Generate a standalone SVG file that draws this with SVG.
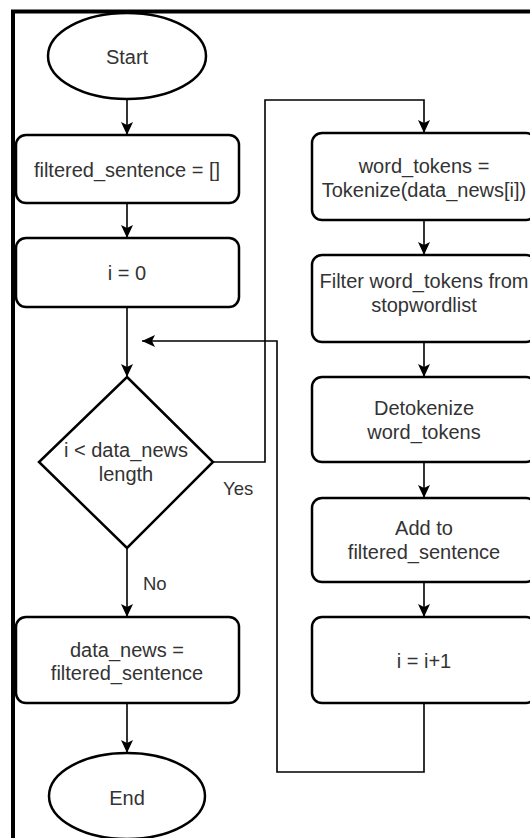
<svg xmlns="http://www.w3.org/2000/svg" width="530" height="838" viewBox="0 0 530 838">
  <defs>
    <style>
      .node { fill: #ffffff; stroke: #000000; stroke-width: 2.5; }
      .lbl { font-family: "Liberation Sans", Arial, sans-serif; font-size: 20px; fill: #333333; text-anchor: middle; }
      .edge-lbl { font-family: "Liberation Sans", Arial, sans-serif; font-size: 18.5px; fill: #333333; }
      .edge { fill: none; stroke: #000000; stroke-width: 1.6; }
    </style>
    <marker id="arrow" markerUnits="userSpaceOnUse" markerWidth="14" markerHeight="12" refX="13" refY="6" orient="auto">
      <path d="M0,0 L13,6 L0,12 L3,6 Z" fill="#000000"/>
    </marker>
  </defs>
  <rect x="0" y="0" width="530" height="838" fill="#ffffff"/>
  <path d="M13,838 V11.5 H530" fill="none" stroke="#000000" stroke-width="4"/>

  <g id="connectors">
    <path class="edge" d="M127,99 V135" marker-end="url(#arrow)"/>
    <path class="edge" d="M127,203 V238" marker-end="url(#arrow)"/>
    <path class="edge" d="M127,307 V377" stroke="#555555" marker-end="url(#arrow)"/>
    <path class="edge" d="M213,462 H265 V100 H424 V133" stroke-width="1.3" marker-end="url(#arrow)"/>
    <path class="edge" d="M424,220 V255" marker-end="url(#arrow)"/>
    <path class="edge" d="M424,342 V377" marker-end="url(#arrow)"/>
    <path class="edge" d="M424,462 V498" marker-end="url(#arrow)"/>
    <path class="edge" d="M424,582 V617" marker-end="url(#arrow)"/>
    <path class="edge" d="M424,703 V772 H277 V341 H142" stroke-width="1.3" marker-end="url(#arrow)"/>
    <path class="edge" d="M127,548 V617" stroke="#555555" marker-end="url(#arrow)"/>
    <path class="edge" d="M127,703 V753" marker-end="url(#arrow)"/>
    <text class="edge-lbl" x="223" y="495">Yes</text>
    <text class="edge-lbl" x="143" y="590">No</text>
  </g>

  <g id="start">
    <ellipse class="node" cx="127" cy="56" rx="79" ry="43"/>
    <text class="lbl" x="127" y="64">Start</text>
  </g>
  <g id="init-filtered">
    <rect class="node" x="16" y="135" width="223" height="68" rx="10"/>
    <text class="lbl" x="127" y="177">filtered_sentence = []</text>
  </g>
  <g id="init-i">
    <rect class="node" x="16" y="238" width="223" height="69" rx="10"/>
    <text class="lbl" x="127" y="280">i = 0</text>
  </g>
  <g id="decision">
    <polygon class="node" points="127,377 213,462 127,548 39,462"/>
    <text class="lbl" x="126" y="457">i &lt; data_news</text>
    <text class="lbl" x="126" y="481">length</text>
  </g>
  <g id="assign-data">
    <rect class="node" x="16" y="617" width="223" height="86" rx="10"/>
    <text class="lbl" x="127" y="657">data_news =</text>
    <text class="lbl" x="127" y="680">filtered_sentence</text>
  </g>
  <g id="end">
    <ellipse class="node" cx="127" cy="796" rx="78" ry="43"/>
    <text class="lbl" x="127" y="805">End</text>
  </g>
  <g id="tokenize">
    <rect class="node" x="312" y="133" width="224" height="87" rx="10"/>
    <text class="lbl" x="424" y="173">word_tokens =</text>
    <text class="lbl" x="424" y="197">Tokenize(data_news[i])</text>
  </g>
  <g id="filter">
    <rect class="node" x="312" y="255" width="224" height="87" rx="10"/>
    <text class="lbl" x="424" y="288">Filter word_tokens from</text>
    <text class="lbl" x="424" y="312">stopwordlist</text>
  </g>
  <g id="detokenize">
    <rect class="node" x="312" y="377" width="224" height="85" rx="10"/>
    <text class="lbl" x="424" y="415">Detokenize</text>
    <text class="lbl" x="424" y="439">word_tokens</text>
  </g>
  <g id="add">
    <rect class="node" x="312" y="498" width="224" height="84" rx="10"/>
    <text class="lbl" x="424" y="535">Add to</text>
    <text class="lbl" x="424" y="559">filtered_sentence</text>
  </g>
  <g id="increment">
    <rect class="node" x="312" y="617" width="224" height="86" rx="10"/>
    <text class="lbl" x="424" y="668">i = i+1</text>
  </g>
</svg>
